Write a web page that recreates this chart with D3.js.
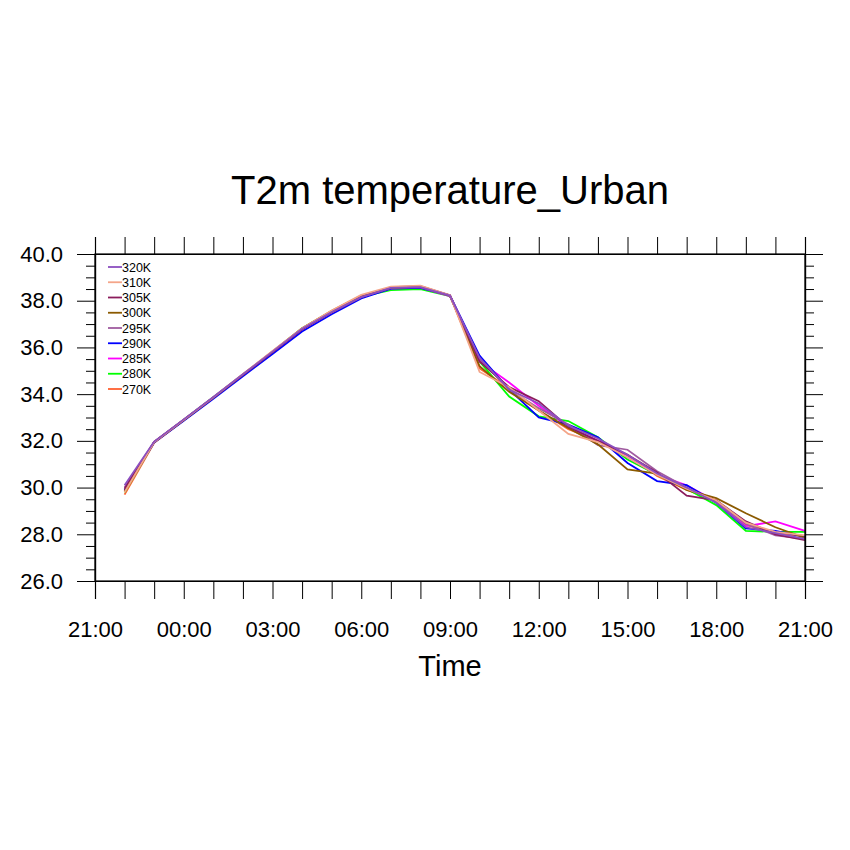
<!DOCTYPE html>
<html><head><meta charset="utf-8">
<script src="https://cdn.jsdelivr.net/npm/d3@7"></script>
<style>body{margin:0;background:#fff}svg{display:block}text{font-family:"Liberation Sans",Arial,sans-serif}</style>
</head><body>
<script>
const hours = ["22:00","23:00","00:00","01:00","02:00","03:00","04:00","05:00","06:00","07:00","08:00","09:00","10:00","11:00","12:00","13:00","14:00","15:00","16:00","17:00","18:00","19:00","20:00","21:00"];
const xTickLabels = ["21:00","00:00","03:00","06:00","09:00","12:00","15:00","18:00","21:00"];
const yTickLabels = ["26.0","28.0","30.0","32.0","34.0","36.0","38.0","40.0"];
const seriesNames = ["320K","310K","305K","300K","295K","290K","285K","280K","270K"];
const seriesColors = ["#8c4fc0","#f4a589","#8b1c5c","#8b5a00","#a05ca0","#0000ff","#ff00ff","#00ff00","#ff6030"];

const t320K = [30.10,31.97,32.92,33.88,34.85,35.82,36.80,37.52,38.15,38.55,38.58,38.22,35.55,34.20,33.60,32.65,32.10,31.40,30.60,30.00,29.35,28.30,28.05,27.80];
const t310K = [29.80,31.95,32.90,33.87,34.86,35.85,36.82,37.58,38.25,38.60,38.65,38.24,34.95,34.30,33.30,32.30,31.95,31.30,30.55,29.95,29.45,28.50,28.10,27.95];
const t305K = [29.95,31.96,32.90,33.86,34.83,35.80,36.78,37.52,38.17,38.58,38.62,38.23,35.40,34.30,33.70,32.60,32.00,31.40,30.65,29.65,29.45,28.55,28.00,27.75];
const t300K = [29.85,31.95,32.89,33.86,34.84,35.83,36.82,37.57,38.22,38.55,38.60,38.22,35.20,34.10,33.30,32.55,31.85,30.78,30.60,29.90,29.55,28.90,28.30,27.85];
const t295K = [30.00,31.96,32.90,33.86,34.83,35.80,36.78,37.50,38.15,38.55,38.58,38.20,35.50,34.20,33.40,32.70,31.82,31.62,30.70,30.00,29.40,28.45,27.95,27.80];
const t290K = [29.90,31.93,32.86,33.80,34.76,35.72,36.68,37.42,38.10,38.52,38.55,38.22,35.65,34.20,33.00,32.70,32.15,31.05,30.28,30.10,29.35,28.25,28.15,27.90];
const t285K = [29.85,31.95,32.89,33.85,34.82,35.80,36.78,37.50,38.15,38.52,38.56,38.20,35.40,34.50,33.50,32.60,32.00,31.30,30.55,30.10,29.40,28.35,28.55,28.15];
const t280K = [29.80,31.95,32.90,33.87,34.84,35.82,36.82,37.55,38.18,38.45,38.50,38.20,35.40,33.90,33.05,32.85,32.15,31.20,30.55,29.95,29.25,28.15,28.10,28.10];
const t270K = [29.70,31.92,32.88,33.85,34.82,35.80,36.78,37.52,38.18,38.55,38.60,38.22,35.10,34.25,33.30,32.50,32.00,31.40,30.50,29.90,29.45,28.40,28.05,27.90];
const seriesValues = [t320K,t310K,t305K,t300K,t295K,t290K,t285K,t280K,t270K];

const W=850,H=850, L=95,R=805,T=254,B=581;
const svg=d3.select("body").append("svg").attr("width",W).attr("height",H);

// x: hour offset from 21:00 (0..24)
const x=d3.scaleLinear().domain([0,24]).range([L,R]);
const y=d3.scaleLinear().domain([26,40]).range([B,T]);

// title
svg.append("text").attr("x",450).attr("y",204).attr("text-anchor","middle")
  .attr("font-size",40).text("T2m temperature_Urban");
svg.append("text").attr("x",450).attr("y",676).attr("text-anchor","middle")
  .attr("font-size",29).text("Time");

// lines
const line=d3.line().x((d,i)=>x(i+1)).y(d=>y(d));
const order=d3.range(seriesNames.length).reverse();
const gL=svg.append("g");
order.forEach(k=>{
  gL.append("path").datum(seriesValues[k]).attr("d",line)
    .attr("fill","none").attr("stroke",seriesColors[k]).attr("stroke-width",1.8)
    .attr("stroke-linejoin","miter");
});

// frame
svg.append("rect").attr("x",L).attr("y",T).attr("width",R-L).attr("height",B-T)
  .attr("fill","none").attr("stroke","#000").attr("stroke-width",1.2);

const hourTicks=d3.range(0,25);
const majorX=d3.range(0,25,3);
// bottom axis (outward ticks)
const xb=d3.axisBottom(x).tickValues(hourTicks).tickSize(18).tickFormat("");
svg.append("g").attr("transform",`translate(0,${B})`).call(xb);
const xt=d3.axisTop(x).tickValues(hourTicks).tickSize(17).tickFormat("");
svg.append("g").attr("transform",`translate(0,${T})`).call(xt);
// x labels
const xl=d3.axisBottom(x).tickValues(majorX).tickSize(0).tickPadding(40).tickFormat((d,i)=>xTickLabels[i]);
svg.append("g").attr("transform",`translate(0,${B})`).call(xl).call(g=>g.select(".domain").remove())
  .selectAll("text").attr("font-size",22).attr("font-family","Liberation Sans, Arial, sans-serif").attr("fill","#000");

// y axes
const yMajor=d3.range(26,40.01,2);
const yMinor=d3.range(26,40.01,0.5).filter(v=>Math.abs(v/2-Math.round(v/2))>1e-6);
svg.append("g").attr("transform",`translate(${L},0)`).call(d3.axisLeft(y).tickValues(yMajor).tickSize(18).tickPadding(14).tickFormat((d,i)=>yTickLabels[i]))
  .call(g=>g.selectAll("text").attr("font-size",22).attr("font-family","Liberation Sans, Arial, sans-serif").attr("fill","#000"));
svg.append("g").attr("transform",`translate(${L},0)`).call(d3.axisLeft(y).tickValues(yMinor).tickSize(9).tickFormat(""));
svg.append("g").attr("transform",`translate(${R},0)`).call(d3.axisRight(y).tickValues(yMajor).tickSize(18).tickFormat(""));
svg.append("g").attr("transform",`translate(${R},0)`).call(d3.axisRight(y).tickValues(yMinor).tickSize(9).tickFormat(""));
svg.selectAll(".domain").attr("stroke","#000").attr("stroke-width",1.2);
svg.selectAll(".tick line").attr("stroke","#000").attr("stroke-width",1);

// legend
const lg=svg.append("g");
seriesNames.forEach((n,i)=>{
  const yy=267+i*15.25;
  lg.append("line").attr("x1",108).attr("x2",122).attr("y1",yy).attr("y2",yy)
    .attr("stroke",seriesColors[i]).attr("stroke-width",1.8);
  lg.append("text").attr("x",122).attr("y",yy+4.5).attr("font-size",12.5).text(n);
});
</script>
</body></html>
